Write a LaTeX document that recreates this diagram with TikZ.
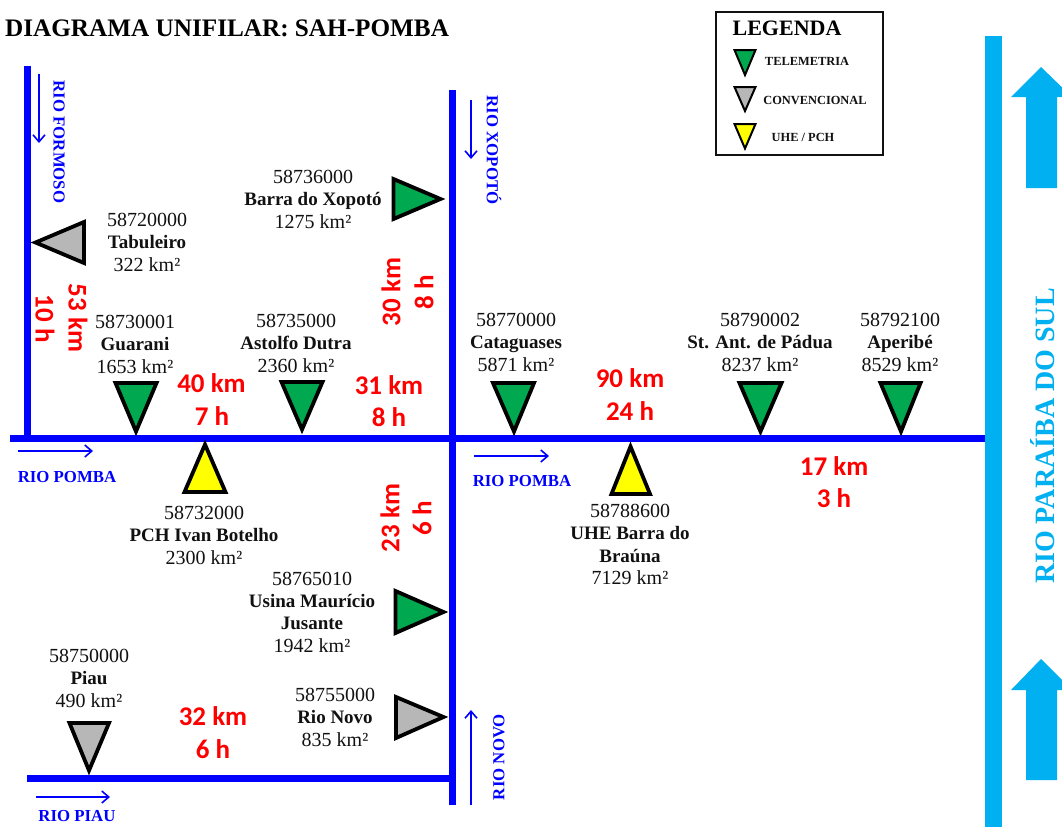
\documentclass[tikz,border=0pt]{standalone}
\usepackage{fontspec}
\setmainfont{Liberation Serif}
\newfontfamily\redfont{Carlito}
\usetikzlibrary{arrows.meta}
\definecolor{tele}{HTML}{00A94F}
\definecolor{conv}{HTML}{B7B7B7}
\definecolor{uhe}{HTML}{FFFF00}
\definecolor{sky}{HTML}{00B0F0}
\definecolor{riv}{HTML}{0000FF}
\definecolor{redt}{HTML}{FF0000}
\definecolor{inkc}{HTML}{111111}
\newcommand{\fs}[1]{\fontsize{#1}{#1}\selectfont}
\tikzset{
 river/.style={draw=riv,line width=7pt},
 flow/.style={draw=riv,line width=1.8pt,-{Straight Barb[length=7pt,width=12pt,line width=1.6pt]}},
 tri/.style={draw=black,line width=3.8pt,line join=miter,miter limit=10},
 ltri/.style={draw=black,line width=2pt,line join=miter,miter limit=10},
 num/.style={inner sep=0,anchor=base,text=inkc,font=\fs{20}},
 nam/.style={inner sep=0,anchor=base,text=inkc,font=\fs{19}\bfseries},
 rivlab/.style={inner sep=0,text=riv,font=\fs{16.8}\bfseries},
 dist/.style={inner sep=0,text=redt,font=\fs{27}\redfont\bfseries},
 leg/.style={inner sep=0,text=inkc,font=\fs{12.4}\bfseries},
}
\newcommand{\stn}[6]{%
 \node[num] (#1id) at (#2,#3) {#4};
 \node[nam] (#1nm) at (#2,#3+22.3) {#5};
 \node[num] (#1ar) at (#2,#3+44.6) {#6};
}
\begin{document}
\begin{tikzpicture}[x=1pt,y=-1pt]
\useasboundingbox (0,0) rectangle (1062,827);
\clip (0,0) rectangle (1062,827);
\fill[white] (0,0) rectangle (1062,827);
% anchor coordinates
\coordinate (pw) at (10,438); \coordinate (pe) at (985,438);
\coordinate (ft) at (27,66);  \coordinate (fb) at (27,438);
\coordinate (xt) at (452,90); \coordinate (xb) at (452,805);
\coordinate (pia) at (27,778); \coordinate (pib) at (452,778);
\coordinate (st) at (993,36); \coordinate (sb) at (993,827);
% rivers
\draw[draw=sky,line width=17pt] (st) -- (sb);
\draw[river] (ft) -- (fb);
\draw[river] (xt) -- (xb);
\draw[river] (pia) -- (pib);
\draw[river] (pw) -- (pe);
% big arrows
\fill[sky] (1041,67) -- (1011,97) -- (1026,97) -- (1026,188) -- (1057,188) -- (1057,97) -- (1072,97) -- cycle;
\fill[sky] (1041,659) -- (1011,690) -- (1026,690) -- (1026,780) -- (1057,780) -- (1057,690) -- (1072,690) -- cycle;
% thin flow arrows
\coordinate (a1) at (39,74);  \coordinate (a2) at (39,143);
\coordinate (b1) at (471,100); \coordinate (b2) at (471,159);
\coordinate (c1) at (18,451); \coordinate (c2) at (93,451);
\coordinate (d1) at (474,456); \coordinate (d2) at (549,456);
\coordinate (e1) at (36,797); \coordinate (e2) at (110,797);
\coordinate (f1) at (471,805); \coordinate (f2) at (471,710);
\draw[flow] (a1) -- (a2);
\draw[flow] (b1) -- (b2);
\draw[flow] (c1) -- (c2);
\draw[flow] (d1) -- (d2);
\draw[flow] (e1) -- (e2);
\draw[flow] (f1) -- (f2);
% river labels
\node[rivlab,rotate=-90] (lf) at (59,142) {RIO FORMOSO};
\node[rivlab,rotate=-90] (lx) at (494,150) {RIO XOPOTÓ};
\node[rivlab,rotate=90] (ln) at (499,757) {RIO NOVO};
\node[rivlab] (lp1) at (67,477) {RIO POMBA};
\node[rivlab] (lp2) at (522,481) {RIO POMBA};
\node[rivlab] (lpi) at (77,816) {RIO PIAU};
\node[inner sep=0,text=sky,rotate=90,font=\fs{28}\bfseries] (ls) at (1043,436) {RIO PARAÍBA DO SUL};
% title
\node[inner sep=0,anchor=west,text=black,font=\fs{25.2}\bfseries] (title) at (5,28) {DIAGRAMA UNIFILAR: SAH-POMBA};
% legend
\draw[draw=inkc,line width=1.5pt,fill=white] (716,12) rectangle (883,155);
\node[inner sep=0,text=black,font=\fs{22}\bfseries] (lgt) at (787,28) {LEGENDA};
\draw[ltri,fill=tele] (734.5,50) -- (755.5,50) -- (745,75) -- cycle;
\draw[ltri,fill=conv] (734.5,87) -- (755.5,87) -- (745,111) -- cycle;
\draw[ltri,fill=uhe] (734.5,124) -- (755.5,124) -- (745,148.5) -- cycle;
\node[leg] (lg1) at (807,61) {TELEMETRIA};
\node[leg] (lg2) at (815,100) {CONVENCIONAL};
\node[leg] (lg3) at (803,137) {UHE / PCH};
% triangles
\draw[tri,fill=conv] (35.5,242.5) -- (84,222) -- (84,263) -- cycle;
\draw[tri,fill=tele] (393.5,179) -- (393.5,219) -- (440.5,199) -- cycle;
\draw[tri,fill=tele] (115.5,383) -- (156.5,383) -- (136,431.5) -- cycle;
\draw[tri,fill=tele] (281.5,382) -- (322.5,382) -- (302,429.5) -- cycle;
\draw[tri,fill=tele] (493,383) -- (534,383) -- (514,431.5) -- cycle;
\draw[tri,fill=tele] (739.5,383) -- (781.5,383) -- (760.5,431.5) -- cycle;
\draw[tri,fill=tele] (880.5,383) -- (920.5,383) -- (901,431.5) -- cycle;
\draw[tri,fill=uhe] (184.5,492) -- (225.5,492) -- (205,444.5) -- cycle;
\draw[tri,fill=uhe] (611.5,494) -- (650,494) -- (630.5,446.5) -- cycle;
\draw[tri,fill=tele] (395.5,591) -- (395.5,633) -- (443.5,612) -- cycle;
\draw[tri,fill=conv] (396,697) -- (396,738) -- (443.5,717) -- cycle;
\draw[tri,fill=conv] (69.5,723) -- (109,723) -- (89,770.5) -- cycle;
% stations
\stn{tab}{147}{226.5}{58720000}{Tabuleiro}{322 km²}
\stn{bxo}{313}{183.5}{58736000}{Barra do Xopotó}{1275 km²}
\stn{gua}{135}{328.5}{58730001}{Guarani}{1653 km²}
\stn{ast}{296}{327.5}{58735000}{Astolfo Dutra}{2360 km²}
\stn{cat}{516}{326.5}{58770000}{Cataguases}{5871 km²}
\stn{pad}{760}{326.5}{58790002}{St. Ant. de Pádua}{8237 km²}
\stn{ape}{900}{326.5}{58792100}{Aperibé}{8529 km²}
\stn{pch}{204}{519.5}{58732000}{PCH Ivan Botelho}{2300 km²}
\stn{pia}{89}{662.5}{58750000}{Piau}{490 km²}
\stn{nov}{335}{701.5}{58755000}{Rio Novo}{835 km²}
\node[num] (uheid) at (630,517.5) {58788600};
\node[nam] (uhen1) at (630,539.5) {UHE Barra do};
\node[nam] (uhen2) at (630,562.5) {Braúna};
\node[num] (uhear) at (630,584.5) {7129 km²};
\node[num] (usiid) at (312,585.5) {58765010};
\node[nam] (usin1) at (312,607.5) {Usina Maurício};
\node[nam] (usin2) at (312,629.5) {Jusante};
\node[num] (usiar) at (312,652.5) {1942 km²};
% distances
\node[dist,rotate=-90] (d1a) at (78,318) {53 km};
\node[dist,rotate=-90] (d1b) at (45,318.5) {10 h};
\node[dist,rotate=90] (d2a) at (391,292) {30 km};
\node[dist,rotate=90] (d2b) at (424,292) {8 h};
\node[dist] (d3a) at (211.5,383) {40 km};
\node[dist] (d3b) at (212,416) {7 h};
\node[dist] (d4a) at (389,385) {31 km};
\node[dist] (d4b) at (389,417) {8 h};
\node[dist] (d5a) at (630,378) {90 km};
\node[dist] (d5b) at (630,411) {24 h};
\node[dist] (d6a) at (834,466) {17 km};
\node[dist] (d6b) at (834,498) {3 h};
\node[dist,rotate=90] (d7a) at (390,518) {23 km};
\node[dist,rotate=90] (d7b) at (422,518) {6 h};
\node[dist] (d8a) at (213,716) {32 km};
\node[dist] (d8b) at (213,749) {6 h};
\end{tikzpicture}
\end{document}
